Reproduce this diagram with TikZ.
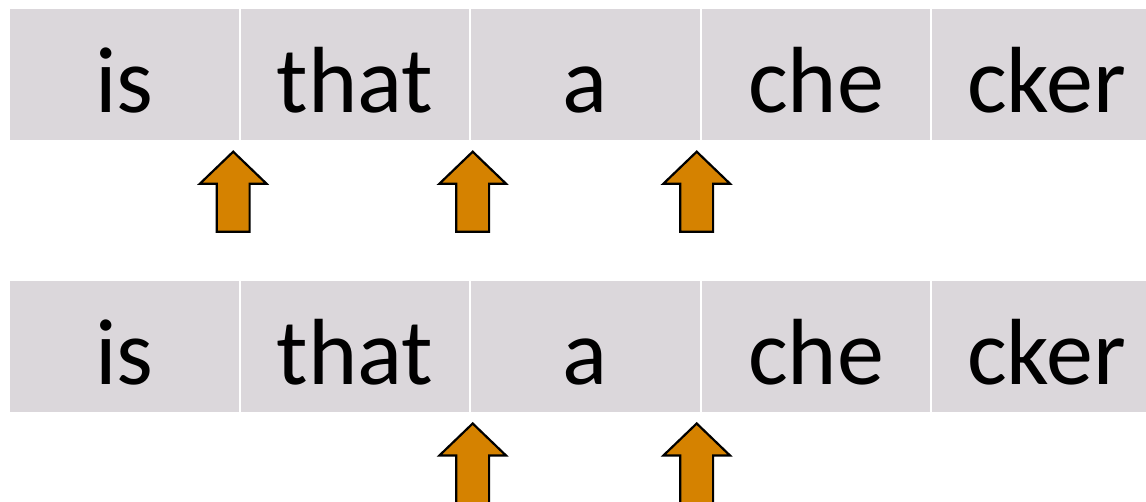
\documentclass[tikz,border=0pt]{standalone}
\usepackage{fontspec}
\setmainfont{Carlito}
\definecolor{cellgray}{RGB}{219,215,219}
\definecolor{arroworange}{RGB}{213,130,0}
\begin{document}
\begin{tikzpicture}[x=1pt,y=-1pt,
  cell/.style={fill=cellgray, draw=none, inner sep=0pt, outer sep=0pt,
    minimum width=228.5pt, minimum height=131pt, anchor=north west},
  word/.style={anchor=base, inner sep=0pt, font=\fontsize{94}{110}\selectfont},
  uparrow/.pic={
    \draw[fill=arroworange, draw=black, line width=2.2pt, line join=miter]
      (0,0) -- (33.3,32) -- (16.4,32) -- (16.4,80) -- (-16.4,80)
      -- (-16.4,32) -- (-33.3,32) -- cycle;
  }]
\useasboundingbox (0,0) rectangle (1146,502);

% two rows of token cells
\foreach \row/\top in {1/9.5, 2/281} {
  \foreach \i/\w in {1/is, 2/that, 3/a, 4/che, 5/cker} {
    \node[cell] (c\row-\i) at ({10+(\i-1)*230.6}, \top) {};
    \node[word] (t\row-\i) at ([yshift=-103.5pt]c\row-\i.north) {\w};
  }
}

% boundary markers under the first row
\coordinate (a1-1) at (233.2,151.7);
\coordinate (a1-2) at (472.7,151.7);
\coordinate (a1-3) at (696.7,151.7);
\foreach \j in {1,2,3} \pic at (a1-\j) {uparrow};

% boundary markers under the second row
\coordinate (a2-2) at (472.7,423.5);
\coordinate (a2-3) at (696.7,423.5);
\foreach \j in {2,3} \pic at (a2-\j) {uparrow};
\end{tikzpicture}
\end{document}
